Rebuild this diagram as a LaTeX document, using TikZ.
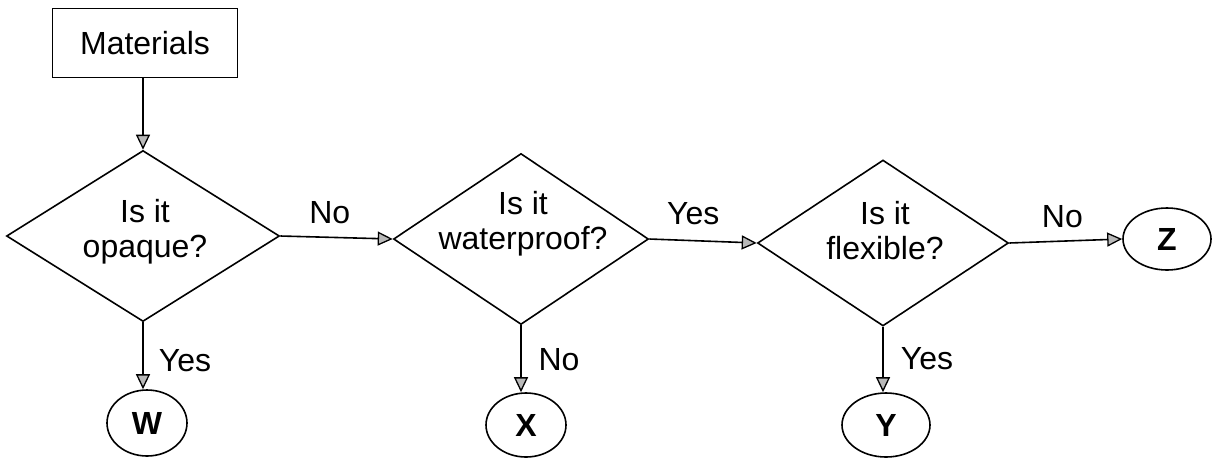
\documentclass[tikz,border=0pt]{standalone}
\usepackage{fontspec}
\setmainfont{Liberation Sans}
\usetikzlibrary{shapes.geometric,arrows.meta}
\begin{document}
\begin{tikzpicture}[x=1pt,y=-1pt,
  every node/.style={font=\fontsize{32}{35}\selectfont},
  box/.style={draw,line width=1.6pt,minimum width=185pt,minimum height=69pt,inner sep=0pt},
  dia/.style={draw,diamond,line width=1.6pt,inner sep=0pt},
  txt/.style={align=center,inner sep=0pt},
  endnode/.style={draw,ellipse,line width=1.6pt,inner sep=0pt,font=\fontsize{32}{35}\selectfont\bfseries},
  lbl/.style={inner sep=0pt},
  arr/.style={line width=1.6pt,-{Triangle[length=15pt,width=14pt,fill=gray!55,line width=1.3pt]}}
]
\useasboundingbox (0,0) rectangle (1213,459);
\node[box] (mat) at (145,43) {Materials};
\node[dia,minimum width=273pt,minimum height=171pt] (d1) at (143,236) {};
\node[txt] (t1) at (145,232) {Is it\\opaque?};
\node[dia,minimum width=255pt,minimum height=171pt] (d2) at (521,239) {};
\node[txt] (t2) at (523,224) {Is it\\waterproof?};
\node[dia,minimum width=251pt,minimum height=166pt] (d3) at (883,243) {};
\node[txt] (t3) at (885,231) {Is it\\flexible?};
\node[endnode,minimum width=80pt,minimum height=66pt] (W) at (147,423) {W};
\node[endnode,minimum width=80pt,minimum height=64pt] (X) at (526,425) {X};
\node[endnode,minimum width=88pt,minimum height=64pt] (Y) at (886,425) {Y};
\node[endnode,minimum width=88pt,minimum height=62pt] (Z) at (1167,239) {Z};
\draw[arr] (mat.south -| d1.north) -- (d1.north);
\draw[arr] (d1.east) -- node[lbl,pos=0.44,yshift=25pt] (l1) {No} (d2.west);
\draw[arr] (d2.east) -- node[lbl,pos=0.41,yshift=27pt] (l2) {Yes} (d3.west);
\draw[arr] (d3.east) -- node[lbl,pos=0.47,yshift=24pt] (l3) {No} (Z.west);
\draw[arr] (d1.south) -- node[lbl,pos=0.57,xshift=42pt] (l4) {Yes} (d1.south |- W.north);
\draw[arr] (d2.south) -- node[lbl,pos=0.52,xshift=38pt] (l5) {No} (d2.south |- X.north);
\draw[arr] (d3.south) -- node[lbl,pos=0.48,xshift=44pt] (l6) {Yes} (d3.south |- Y.north);
\end{tikzpicture}
\end{document}
